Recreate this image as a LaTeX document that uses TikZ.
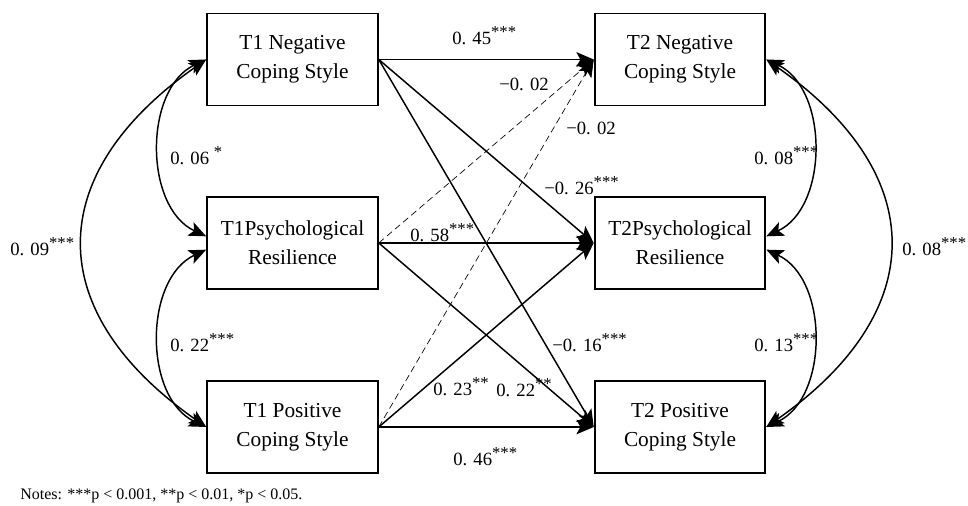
\documentclass[tikz,border=0pt]{standalone}
\usepackage{fontspec}
\setmainfont{Liberation Serif}
\usepackage{tikz}
\usetikzlibrary{arrows.meta}
\newcommand{\stars}[1]{\raisebox{5.5pt}{\fontsize{12.5}{12.5}\selectfont #1}}
\tikzset{
        box/.style={draw, line width=1.4pt, minimum width=128pt, minimum height=69pt, align=center, inner sep=0pt, font=\fontsize{16}{21.75}\selectfont},
        coef/.style={anchor=base west, inner sep=0pt, font=\fontsize{14}{14}\selectfont},
        reg/.style={->, line width=1.1pt},
        nsreg/.style={->, line width=0.5pt, dash pattern=on 5pt off 3pt},
        cov/.style={<->, line width=1.1pt}
}

\begin{document}
\begin{tikzpicture}[x=0.75pt, y=0.75pt, >={Stealth[length=13pt,width=11pt,inset=3pt]}]
                \useasboundingbox (0,0) rectangle (968,506);
                \node[box] (n1) at (292.5,446.5) {T1 Negative\\Coping Style};
                \node[box] (r1) at (292.5,263) {T1Psychological\\Resilience};
                \node[box] (p1) at (292.5,79) {T1 Positive\\Coping Style};
                \node[box] (n2) at (680,446.5) {T2 Negative\\Coping Style};
                \node[box] (r2) at (680,263) {T2Psychological\\Resilience};
                \node[box] (p2) at (680,79) {T2 Positive\\Coping Style};
                \draw[reg] (n1.east) -- (n2.west);
                \draw[reg] (n1.east) -- (r2.west);
                \draw[reg] (n1.east) -- (p2.west);
                \draw[nsreg] (r1.east) -- (n2.west);
                \draw[reg] (r1.east) -- (r2.west);
                \draw[reg] (r1.east) -- (p2.west);
                \draw[nsreg] (p1.east) -- (n2.west);
                \draw[reg] (p1.east) -- (r2.west);
                \draw[reg] (p1.east) -- (p2.west);
                \draw[cov] (n1.west) to[out=205, in=155] ([yshift=5pt]r1.west);
                \draw[cov] ([yshift=-5pt]r1.west) to[out=205, in=155] (p1.west);
                \draw[cov] (n1.west) to[out=215, in=145, looseness=1.4] (p1.west);
                \draw[cov] (n2.east) to[out=-25, in=25] ([yshift=5pt]r2.east);
                \draw[cov] ([yshift=-5pt]r2.east) to[out=-25, in=25] (p2.east);
                \draw[cov] (n2.east) to[out=-35, in=35, looseness=1.4] (p2.east);
                \node[coef] (b45) at (452,461) {0. 45\stars{***}};
                \node[coef] (b02a) at (499,415) {−0. 02};
                \node[coef] (b02b) at (566,371) {−0. 02};
                \node[coef] (b26) at (544,311) {−0. 26\stars{***}};
                \node[coef] (b58) at (410,264) {0. 58\stars{***}};
                \node[coef] (b23) at (433,110) {0. 23\stars{**}};
                \node[coef] (b22) at (496,109) {0. 22\stars{**}};
                \node[coef] (b16) at (552,154) {−0. 16\stars{***}};
                \node[coef] (b46) at (453,40) {0. 46\stars{***}};
                \node[coef] (c06) at (170,341) {0. 06 \stars{*}};
                \node[coef] (c22) at (170,154) {0. 22\stars{***}};
                \node[coef] (c09) at (10,250) {0. 09\stars{***}};
                \node[coef] (c08a) at (754,341) {0. 08\stars{***}};
                \node[coef] (c13) at (754,154) {0. 13\stars{***}};
                \node[coef] (c08b) at (902,250) {0. 08\stars{***}};
                \node[anchor=base west, inner sep=0pt, font=\fontsize{12}{12}\selectfont] (notes) at (20,6) {Notes: ***p < 0.001, **p < 0.01, *p < 0.05.};
            \end{tikzpicture}
\end{document}
